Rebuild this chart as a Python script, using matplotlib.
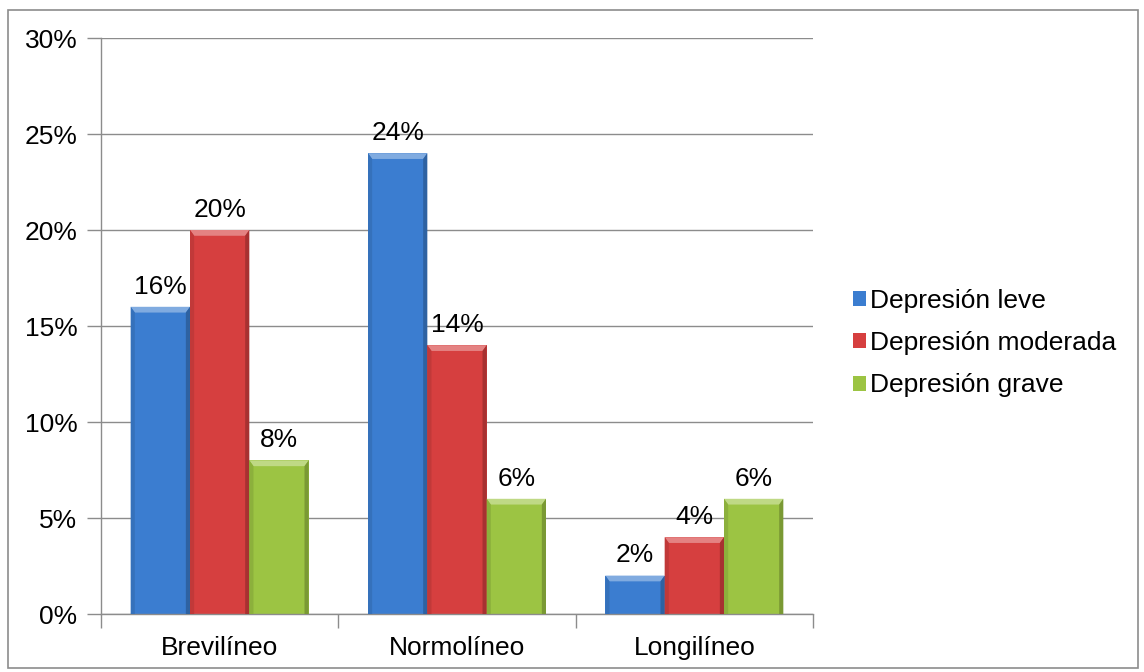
import matplotlib
matplotlib.use("Agg")
import matplotlib.pyplot as plt
from matplotlib.patches import Rectangle, Polygon
from matplotlib.ticker import FuncFormatter, FixedLocator
import matplotlib.colors as mcolors

plt.rcParams['font.family'] = ['Liberation Sans', 'DejaVu Sans']

categories = ["Brevilíneo", "Normolíneo", "Longilíneo"]
series_names = ["Depresión leve", "Depresión moderada", "Depresión grave"]
leve = [16, 24, 2]
moderada = [20, 14, 4]
grave = [8, 6, 6]
series_values = [leve, moderada, grave]
colors = ["#3b7dd0", "#d63f3f", "#9cc443"]

FS = 19
fig = plt.figure(figsize=(11.44, 6.72), dpi=100)
ax = fig.add_axes([101 / 1144, 1 - 614 / 672, (813 - 101) / 1144, (614 - 38) / 672])

grid_c = "#8c8c8c"
width = 0.25
x = list(range(len(categories)))


def bevel(ax, rect, color):
    """Light top facet and shaded side facets for a beveled bar look."""
    x0, y0 = rect.get_x(), rect.get_y()
    w, h = rect.get_width(), rect.get_height()
    dx = w * 0.07
    dy = min(0.3, h / 2)
    base = mcolors.to_rgb(color)
    light = tuple(min(1, c + (1 - c) * 0.35) for c in base)
    dark = tuple(c * 0.78 for c in base)
    top = y0 + h
    ax.add_patch(Polygon([(x0, top), (x0 + w, top), (x0 + w - dx, top - dy), (x0 + dx, top - dy)],
                         closed=True, facecolor=light, edgecolor='none', zorder=3))
    ax.add_patch(Polygon([(x0, y0), (x0, top), (x0 + dx, top - dy), (x0 + dx, y0)],
                         closed=True, facecolor=tuple(c * 0.9 for c in base), edgecolor='none', zorder=3))
    ax.add_patch(Polygon([(x0 + w, y0), (x0 + w, top), (x0 + w - dx, top - dy), (x0 + w - dx, y0)],
                         closed=True, facecolor=dark, edgecolor='none', zorder=3))


for i, (name, vals, col) in enumerate(zip(series_names, series_values, colors)):
    offs = [xi + (i - 1) * width for xi in x]
    bars = ax.bar(offs, vals, width=width, color=col, label=name, zorder=2,
                  edgecolor='none')
    for b, v in zip(bars, vals):
        bevel(ax, b, col)
        ax.text(b.get_x() + b.get_width() / 2, v + 1.05, f"{v}%", ha='center', va='center',
                fontsize=FS, color='black', zorder=4)

ax.set_xlim(-0.5, len(categories) - 0.5)
ax.set_ylim(0, 30)
ax.set_yticks(range(0, 31, 5))
ax.yaxis.set_major_formatter(FuncFormatter(lambda v, p: f"{int(v)}%"))
ax.yaxis.grid(True, color=grid_c, linewidth=1)
ax.set_axisbelow(True)

ax.set_xticks(x)
ax.set_xticklabels(categories, fontsize=FS)
ax.tick_params(axis='x', length=0, pad=16)
ax.xaxis.set_minor_locator(FixedLocator([-0.5, 0.5, 1.5, 2.5]))
ax.tick_params(axis='x', which='minor', length=10, color=grid_c, width=1)
ax.tick_params(axis='y', length=10, color=grid_c, width=1, labelsize=FS, pad=7)

for s in ['top', 'right']:
    ax.spines[s].set_visible(False)
for s in ['left', 'bottom']:
    ax.spines[s].set_color(grid_c)
    ax.spines[s].set_linewidth(1)

leg = fig.legend(loc='center left', bbox_to_anchor=(853 / 1144, 1 - 343 / 672), frameon=False,
                 fontsize=FS, handlelength=0.5, handleheight=0.5, handletextpad=0.15,
                 labelspacing=0.7, borderpad=0, borderaxespad=0)

fig.add_artist(Rectangle((8 / 1144, 4 / 672), 1130 / 1144, 1 - 14 / 672, transform=fig.transFigure,
                         fill=False, edgecolor=grid_c, linewidth=1.2))

fig.savefig("out.png", dpi=100)
